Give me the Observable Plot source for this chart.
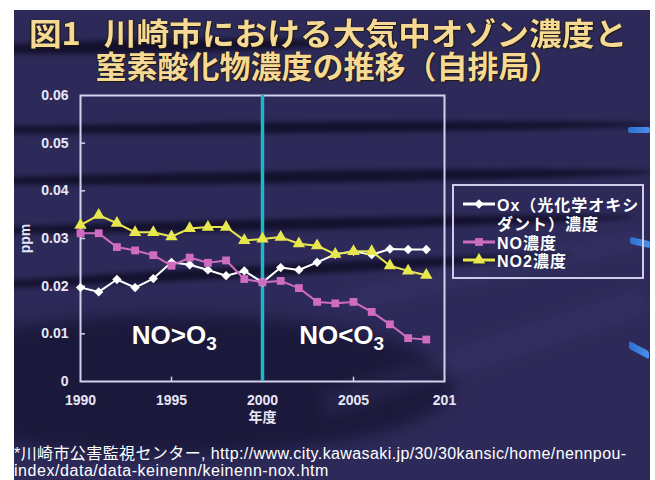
<!DOCTYPE html>
<html><head><meta charset="utf-8">
<script src="https://cdn.jsdelivr.net/npm/d3@7"></script>
<script src="https://cdn.jsdelivr.net/npm/@observablehq/plot@0.6"></script>
<style>
html,body{margin:0;padding:0;background:#fff;}
body{width:655px;height:480px;position:relative;overflow:hidden;font-family:"Liberation Sans",Arial,"Noto Sans CJK JP",sans-serif;}
#slide{position:absolute;left:14px;top:10px;width:636px;height:470px;background:#2d2a59;overflow:hidden;}
.band{position:absolute;border-radius:50%;background:rgba(8,6,26,.7);filter:blur(2.5px);}
.streak{position:absolute;background:rgba(70,70,130,.18);filter:blur(6px);}
.dash{position:absolute;background:linear-gradient(90deg,#2f6fd0,#4a90ea);border-radius:2px;}
.tline{position:absolute;left:0;width:656px;height:32px;line-height:32px;text-align:center;font-family:"Noto Sans CJK JP",sans-serif;font-weight:bold;font-size:31px;color:#f6d994;text-shadow:1px 1px 1px #201a10,-1px 0 1px #201a10;white-space:nowrap;}
#chart{position:absolute;left:0;top:85px;}
#legend{position:absolute;left:452px;top:184px;width:192px;height:95px;box-sizing:border-box;border:2px solid #cfcbe8;}
.lrow{position:absolute;left:8px;height:18px;display:flex;align-items:center;color:#fff;font-family:"Liberation Sans","Noto Sans CJK JP",sans-serif;font-weight:bold;font-size:16px;letter-spacing:1px;white-space:nowrap;}
.cap{position:absolute;left:14px;color:#fff;font-size:16px;line-height:17px;height:17px;letter-spacing:0.4px;white-space:nowrap;font-family:"Liberation Sans","Noto Sans CJK JP",sans-serif;}
</style></head>
<body>
<div id="slide">
  <div class="band" style="left:-60px;top:30px;width:380px;height:13px;transform:rotate(-1deg);"></div>
  <div class="band" style="left:-80px;top:112px;width:720px;height:11px;transform:rotate(-0.5deg);"></div>
  <div class="band" style="left:-80px;top:161px;width:720px;height:12px;transform:rotate(-0.8deg);"></div>
  <div class="band" style="left:-80px;top:209px;width:700px;height:11px;transform:rotate(-1.2deg);"></div>
  <div class="band" style="left:-80px;top:256px;width:640px;height:11px;transform:rotate(-3deg);"></div>
  <div class="band" style="left:-120px;top:305px;width:560px;height:140px;background:rgba(10,8,30,.5);filter:blur(8px);"></div>
  <div class="streak" style="left:330px;top:250px;width:300px;height:20px;transform:rotate(-12deg);"></div>
  <div class="streak" style="left:300px;top:330px;width:340px;height:26px;transform:rotate(-18deg);"></div>
  <div class="dash" style="left:614px;top:117px;width:22px;height:6px;"></div>
  <div class="dash" style="left:616px;top:229px;width:20px;height:7px;transform:skewY(12deg);"></div>
  <div class="dash" style="left:615px;top:336px;width:20px;height:8px;transform:skewY(28deg);"></div>
</div>
<div class="tline" style="top:16px;transform:scaleX(1.055);">図1&#x2002;&#x2009;川崎市における大気中オゾン濃度と</div>
<div class="tline" style="top:49px;">窒素酸化物濃度の推移（自排局）</div>
<div id="chart"></div>
<div id="legend"></div>
<div class="cap" style="top:445px;">*川崎市公害監視センター, http://www.city.kawasaki.jp/30/30kansic/home/nennpou-</div>
<div class="cap" style="top:462px;letter-spacing:0.55px;">index/data/data-keinenn/keinenn-nox.htm</div>
<script>
const years = [1990,1991,1992,1993,1994,1995,1996,1997,1998,1999,2000,2001,2002,2003,2004,2005,2006,2007,2008,2009];
const oxValues = [0.0197,0.0188,0.0214,0.0197,0.0216,0.0250,0.0245,0.0234,0.0222,0.0232,0.0208,0.0239,0.0234,0.0250,0.0267,0.0273,0.0266,0.0278,0.0277,0.0277];
const noValues = [0.0311,0.0311,0.0282,0.0275,0.0265,0.0243,0.0260,0.0249,0.0254,0.0215,0.0208,0.0211,0.0196,0.0167,0.0164,0.0167,0.0146,0.0120,0.0091,0.0088];
const no2Values = [0.0328,0.0349,0.0332,0.0313,0.0313,0.0304,0.0321,0.0324,0.0324,0.0296,0.0299,0.0303,0.0289,0.0285,0.0267,0.0273,0.0273,0.0243,0.0232,0.0223];
const seriesNames = ["Ox（光化学オキシ\nダント）濃度","NO濃度","NO2濃度"];
const xTicks = [1990,1995,2000,2005,2010];
const xTickLabels = ["1990","1995","2000","2005","201"];
const yTicks = [0,0.01,0.02,0.03,0.04,0.05,0.06];
const yTickLabels = ["0","0.01","0.02","0.03","0.04","0.05","0.06"];
const dividerYear = [2000];
const regionLabels = [{year:1995.15,value:0.00965,text:"NO>O3"},{year:2004.35,value:0.00965,text:"NO<O3"}];

const styles = [
  {color:"#ffffff", symbol:"diamond2", r:4.2},
  {color:"#d06cc0", symbol:"square", r:4.4},
  {color:"#e8e84e", symbol:"triangle", r:4.6}
];
const valueSets = [oxValues, noValues, no2Values];
const rows = [];
valueSets.forEach((vals, s) => years.forEach((y, i) => rows.push({series: seriesNames[s], idx: s, year: y, value: vals[i]})));

const marks = [
  Plot.frame({stroke:"#d4d1ec", strokeWidth:2}),
  Plot.ruleY(yTicks.slice(1,-1), {y:d=>d, x1:1990, x2:1990.28, stroke:"#d4d1ec", strokeWidth:1.5}),
  Plot.ruleX(xTicks.slice(1,-1), {x:d=>d, y1:0, y2:0.0009, stroke:"#d4d1ec", strokeWidth:1.5}),
  Plot.axisY({ticks:yTicks, tickFormat:(d,i)=>yTickLabels[i], tickSize:0, tickPadding:12, label:"ppm", labelArrow:false, labelAnchor:"center", labelOffset:60, fontSize:14, fontWeight:"bold", fill:"#e8e6f6"}),
  Plot.axisX({ticks:xTicks, tickFormat:(d,i)=>xTickLabels[i], tickSize:0, tickPadding:14, label:"年度", labelArrow:false, labelAnchor:"center", labelOffset:40, fontSize:14, fontWeight:"bold", fill:"#e8e6f6"}),
  Plot.ruleX(dividerYear, {stroke:"#20b6c8", strokeWidth:3.5}),
];
styles.forEach((st, s) => {
  const d = rows.filter(r => r.idx === s);
  marks.push(Plot.line(d, {x:"year", y:"value", stroke:st.color, strokeWidth:2}));
  marks.push(Plot.dot(d, {x:"year", y:"value", symbol:()=>st.symbol, fill:st.color, r:st.r, stroke:"none"}));
});
marks.push(Plot.text(regionLabels, {x:"year", y:"value", text:"text", fill:"#ffffff", fontSize:26, fontWeight:"bold", stroke:"#15122e", strokeWidth:0.8, paintOrder:"stroke"}));

const plot = Plot.plot({
  width:460, height:350,
  marginLeft:80, marginRight:16, marginTop:10, marginBottom:54,
  style:{background:"transparent", color:"#e8e6f6", fontFamily:"'Liberation Sans', Arial, 'Noto Sans CJK JP', sans-serif", overflow:"visible"},
  x:{domain:[1990,2010], labelArrow:false},
  y:{domain:[0,0.06], labelArrow:false},
  symbol:{type:"identity"},
  marks
});
d3.select(plot).selectAll("text").each(function(){
  const t = this.textContent;
  if (/^NO[<>]O3$/.test(t)) {
    this.textContent = t.slice(0,-1);
    d3.select(this).append("tspan").attr("dy","0.35em").attr("font-size","19px").text("3");
  } else if (/[→↑]/.test(t)) {
    this.textContent = t.replace(/\s*[→↑]\s*/g, "");
  }
});
document.getElementById("chart").appendChild(plot);

// legend
const legend = d3.select("#legend");
const rowTops = [[9,28],[47],[65]];
seriesNames.forEach((name, s) => {
  const lines = name.split("\n");
  lines.forEach((ln, j) => {
    const row = legend.append("div").attr("class","lrow").style("top", rowTops[s][j] + "px");
    const svg = row.append("svg").attr("width", 34).attr("height", 14).style("margin-right","1px");
    if (j === 0) {
      svg.append("line").attr("x1",1).attr("x2",33).attr("y1",7).attr("y2",7).attr("stroke",styles[s].color).attr("stroke-width",3);
      const sym = {diamond2:d3.symbolDiamond2, square:d3.symbolSquare, triangle:d3.symbolTriangle}[styles[s].symbol];
      svg.append("path").attr("transform","translate(17,7)").attr("d", d3.symbol(sym, Math.PI*styles[s].r*styles[s].r)()).attr("fill",styles[s].color);
    }
    row.append("span").text(ln);
  });
});
</script>
</body></html>
